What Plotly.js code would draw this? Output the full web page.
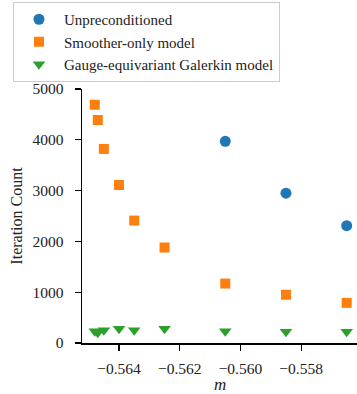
<!DOCTYPE html>
<html><head><meta charset="utf-8">
<script src="https://cdn.plot.ly/plotly-3.0.1.min.js"></script>
<style>body{margin:0;padding:0;background:#fff}#chart{width:357px;height:394px}</style>
</head><body><div id="chart"></div>
<script>
const mUnprec = [-0.5605, -0.5585, -0.5565];
const itUnprec = [3970, 2950, 2310];
const mModel = [-0.5648, -0.5647, -0.5645, -0.5640, -0.5635, -0.5625, -0.5605, -0.5585, -0.5565];
const itSmoother = [4690, 4390, 3820, 3110, 2410, 1880, 1170, 950, 790];
const itGalerkin = [230, 200, 250, 280, 250, 280, 230, 220, 220];
const names = ["Unpreconditioned", "Smoother-only model", "Gauge-equivariant Galerkin model"];
const xTicks = [-0.564, -0.562, -0.560, -0.558];
const yTicks = [0, 1000, 2000, 3000, 4000, 5000];
const xTitle = "<i>m</i>";
const yTitle = "Iteration Count";

const serif = "'Liberation Serif', serif";
const traces = [
  {x: mUnprec, y: itUnprec, name: names[0], type: "scatter", mode: "markers",
   marker: {symbol: "circle", size: 11, color: "#1f77b4"}},
  {x: mModel, y: itSmoother, name: names[1], type: "scatter", mode: "markers",
   marker: {symbol: "square", size: 10, color: "#ff7f0e"}},
  {x: mModel, y: itGalerkin, name: names[2], type: "scatter", mode: "markers",
   marker: {symbol: "triangle-down", size: 11, color: "#2ca02c"}}
];
const layout = {
  width: 357, height: 394,
  margin: {l: 82, r: 0, t: 89, b: 51},
  paper_bgcolor: "#fff", plot_bgcolor: "#fff",
  font: {family: serif, size: 15, color: "#222"},
  showlegend: true,
  legend: {x: -0.251, y: 1.3425, xanchor: "left", yanchor: "top",
    bgcolor: "#fff", bordercolor: "#ccc", borderwidth: 1,
    font: {family: serif, size: 15, color: "#222"}, itemwidth: 40, tracegroupgap: 0},
  xaxis: {range: [-0.56522, -0.55616], tickvals: xTicks, tickformat: ".3f",
    showgrid: false, zeroline: false, showline: true, linecolor: "#000", linewidth: 1.5,
    ticks: "outside", ticklen: 6, tickwidth: 1.2, tickcolor: "#000", ticklabelstandoff: 5,
    tickfont: {family: serif, size: 15.5, color: "#222"}},
  yaxis: {range: [0, 5000], tickvals: yTicks,
    showgrid: false, zeroline: false, showline: true, linecolor: "#000", linewidth: 1.5,
    ticks: "outside", ticklen: 6, tickwidth: 1.2, tickcolor: "#000", ticklabelstandoff: 8,
    tickfont: {family: serif, size: 15.5, color: "#222"},
    title: {text: yTitle, font: {family: serif, size: 16}, standoff: 6}},
  annotations: [{text: xTitle, xref: "paper", yref: "paper", x: 0.5, y: -0.163,
    xanchor: "center", yanchor: "middle", showarrow: false, borderpad: 0,
    font: {family: serif, size: 17, color: "#222"}}]
};
Plotly.newPlot("chart", traces, layout, {displayModeBar: false, staticPlot: true});
</script></body></html>
